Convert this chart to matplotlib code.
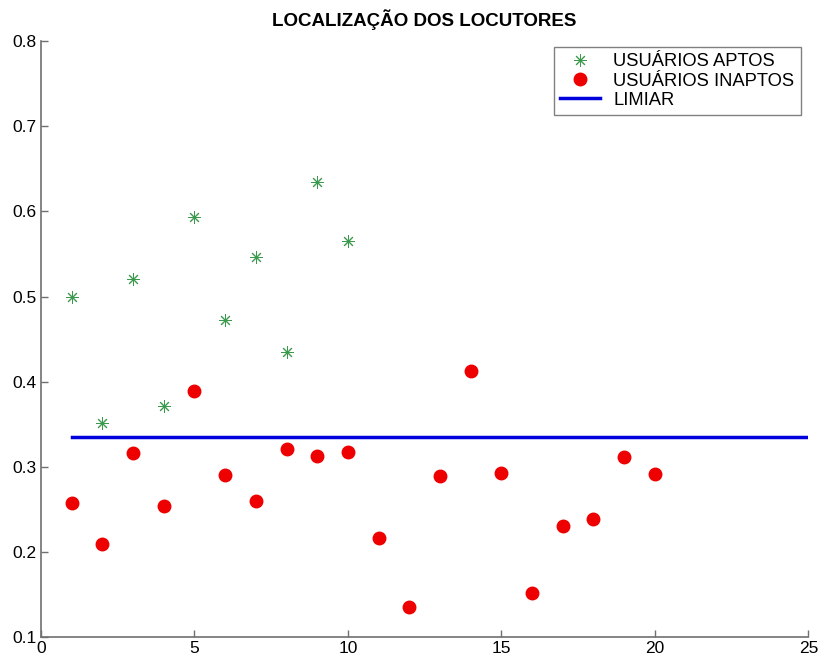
import matplotlib
matplotlib.use("Agg")
import matplotlib.pyplot as plt

plt.rcParams['font.family'] = ['Liberation Sans', 'DejaVu Sans']

# Users accepted by the system
aptos_x = [1, 2, 3, 4, 5, 6, 7, 8, 9, 10]
aptos_y = [0.500, 0.351, 0.520, 0.371, 0.593, 0.473, 0.546, 0.435, 0.634, 0.565]

# Users rejected by the system
inaptos_x = list(range(1, 21))
inaptos_y = [0.258, 0.209, 0.316, 0.254, 0.389, 0.290, 0.260, 0.321, 0.313, 0.317,
             0.216, 0.136, 0.289, 0.412, 0.293, 0.152, 0.230, 0.239, 0.311, 0.292]

# Decision threshold
limiar_x = [1, 25]
limiar_y = [0.3355, 0.3355]

fig = plt.figure(figsize=(8.19, 6.61), dpi=100)
ax = fig.add_axes([0.050, 0.036, 0.937, 0.902])

# asterisk made of '+' and 'x' strokes
ax.plot(aptos_x, aptos_y, linestyle='none', marker=(8, 2, 0), color='#3a9a4c',
        markersize=9, markeredgewidth=0.7, label='USUÁRIOS APTOS')
ax.plot(inaptos_x, inaptos_y, linestyle='none', marker='o', color='#ee0000',
        markersize=9, label='USUÁRIOS INAPTOS')
ax.plot(limiar_x, limiar_y, color='#0000dd', linewidth=2.5, label='LIMIAR')

ax.set_xlim(0, 25)
ax.set_ylim(0.1, 0.8)
ax.set_xticks([0, 5, 10, 15, 20, 25])
ax.set_yticks([0.1, 0.2, 0.3, 0.4, 0.5, 0.6, 0.7, 0.8])
ax.set_yticklabels(['0.1', '0.2', '0.3', '0.4', '0.5', '0.6', '0.7', '0.8'])

for side in ('top', 'right'):
    ax.spines[side].set_visible(False)
for side in ('left', 'bottom'):
    ax.spines[side].set_color('#707070')
    ax.spines[side].set_linewidth(1.2)
ax.tick_params(direction='in', length=5, width=1, color='#707070',
               labelsize=12.5, pad=3)

ax.set_title('LOCALIZAÇÃO DOS LOCUTORES', fontsize=13.5, fontweight='bold', pad=11)

leg = ax.legend(loc='upper right', bbox_to_anchor=(0.99, 0.99), fontsize=13.2,
                frameon=True, fancybox=False, edgecolor='#606060',
                borderpad=0.35, labelspacing=0.12, handlelength=2.2,
                handletextpad=0.7, borderaxespad=0.0)
leg.get_frame().set_linewidth(1.0)

fig.savefig('out.png', dpi=100)
